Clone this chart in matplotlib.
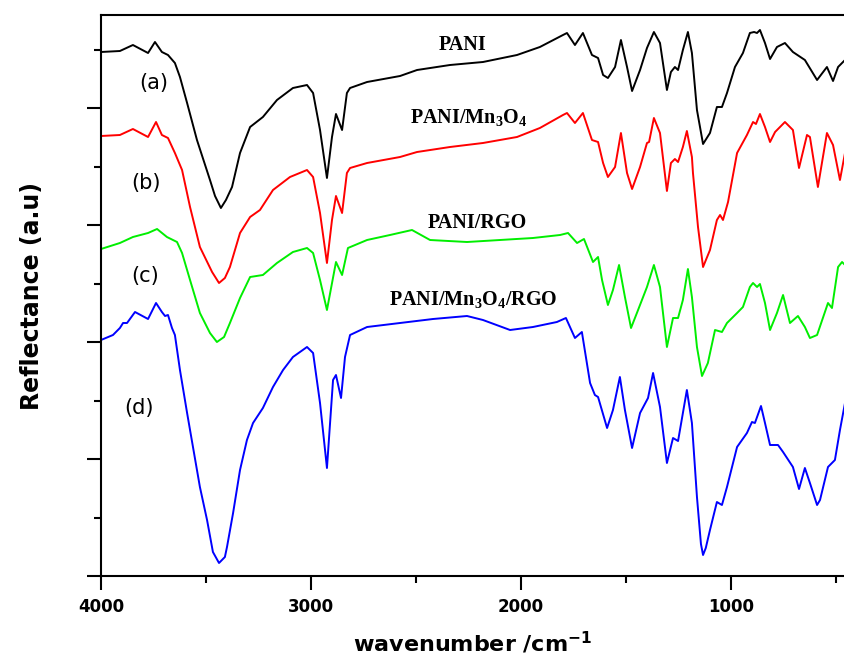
import numpy as np
import matplotlib
matplotlib.use("Agg")
import matplotlib.pyplot as plt
from matplotlib.ticker import MultipleLocator, NullFormatter

plt.rcParams['mathtext.default'] = 'regular'

## Data ##################################################################
# (a) PANI
wn_a = [4000, 3910, 3848, 3776, 3743, 3710, 3681, 3648, 3624, 3590, 3543, 3481,
        3457, 3429, 3405, 3376, 3338, 3290, 3229, 3162, 3086, 3019, 2990, 2957,
        2924, 2900, 2881, 2852, 2829, 2814, 2733, 2576, 2495, 2338, 2181, 2019,
        1910, 1800, 1781, 1743, 1705, 1662, 1633, 1609, 1586, 1552, 1524, 1495,
        1471, 1433, 1400, 1367, 1338, 1305, 1286, 1267, 1252, 1229, 1205, 1186,
        1162, 1133, 1100, 1067, 1043, 1019, 981, 943, 910, 890, 876, 862, 838,
        814, 781, 743, 705, 648, 590, 543, 514, 490, 457]
r_a = [5.24, 5.25, 5.31, 5.23, 5.34, 5.24, 5.21, 5.13, 4.99, 4.73, 4.36, 3.96,
       3.80, 3.68, 3.76, 3.89, 4.23, 4.49, 4.59, 4.76, 4.88, 4.91, 4.83, 4.46,
       3.98, 4.39, 4.62, 4.46, 4.83, 4.88, 4.94, 5.00, 5.06, 5.11, 5.14, 5.21,
       5.29, 5.41, 5.43, 5.31, 5.43, 5.21, 5.18, 5.01, 4.98, 5.09, 5.36, 5.09,
       4.85, 5.06, 5.28, 5.44, 5.33, 4.86, 5.04, 5.09, 5.06, 5.26, 5.44, 5.23,
       4.66, 4.32, 4.43, 4.69, 4.69, 4.83, 5.09, 5.23, 5.43, 5.44, 5.43, 5.46,
       5.33, 5.17, 5.29, 5.33, 5.24, 5.16, 4.96, 5.09, 4.95, 5.09, 5.16]

# (b) PANI/Mn3O4
wn_b = [4000, 3910, 3848, 3776, 3738, 3710, 3681, 3648, 3614, 3576, 3529, 3471,
        3438, 3410, 3386, 3338, 3290, 3243, 3181, 3100, 3019, 2990, 2957, 2924,
        2900, 2881, 2852, 2829, 2814, 2733, 2576, 2495, 2338, 2181, 2019, 1910,
        1800, 1781, 1743, 1705, 1662, 1633, 1609, 1586, 1552, 1524, 1495, 1471,
        1433, 1400, 1390, 1367, 1338, 1305, 1286, 1267, 1252, 1229, 1210, 1186,
        1181, 1157, 1133, 1100, 1067, 1052, 1038, 1014, 971, 924, 895, 881, 862,
        838, 814, 790, 743, 705, 676, 638, 624, 586, 543, 514, 481, 457]
r_b = [4.40, 4.41, 4.47, 4.39, 4.54, 4.41, 4.38, 4.23, 4.06, 3.69, 3.29, 3.04,
       2.93, 2.98, 3.09, 3.43, 3.59, 3.66, 3.86, 3.99, 4.06, 3.99, 3.63, 3.13,
       3.56, 3.80, 3.63, 4.03, 4.08, 4.13, 4.19, 4.24, 4.29, 4.33, 4.39, 4.48,
       4.61, 4.63, 4.53, 4.63, 4.36, 4.34, 4.13, 3.99, 4.09, 4.43, 4.03, 3.87,
       4.09, 4.33, 4.34, 4.58, 4.43, 3.85, 4.13, 4.17, 4.14, 4.29, 4.45, 4.19,
       4.03, 3.49, 3.09, 3.26, 3.56, 3.61, 3.56, 3.74, 4.23, 4.41, 4.54, 4.52,
       4.62, 4.49, 4.34, 4.44, 4.54, 4.46, 4.08, 4.41, 4.39, 3.89, 4.43, 4.31,
       3.96, 4.23]

# (c) PANI/RGO
wn_c = [4000, 3910, 3848, 3776, 3733, 3686, 3638, 3614, 3576, 3529, 3481, 3448,
        3414, 3386, 3338, 3290, 3229, 3162, 3086, 3019, 2990, 2957, 2924, 2881,
        2852, 2824, 2733, 2624, 2519, 2433, 2257, 2100, 1943, 1814, 1776, 1733,
        1700, 1657, 1633, 1614, 1586, 1562, 1533, 1505, 1476, 1448, 1400, 1367,
        1338, 1305, 1276, 1252, 1229, 1205, 1186, 1162, 1138, 1110, 1076, 1043,
        1019, 971, 943, 910, 895, 876, 862, 838, 814, 781, 752, 719, 681, 648,
        624, 590, 538, 519, 490, 471, 457]
r_c = [3.27, 3.33, 3.39, 3.43, 3.47, 3.39, 3.34, 3.23, 2.96, 2.63, 2.43, 2.34,
       2.39, 2.53, 2.78, 2.99, 3.01, 3.13, 3.24, 3.28, 3.23, 2.96, 2.66, 3.14,
       3.01, 3.28, 3.36, 3.41, 3.46, 3.36, 3.34, 3.36, 3.38, 3.41, 3.43, 3.33,
       3.37, 3.14, 3.19, 2.96, 2.71, 2.86, 3.11, 2.79, 2.48, 2.63, 2.89, 3.11,
       2.89, 2.29, 2.58, 2.58, 2.76, 3.07, 2.79, 2.29, 2.00, 2.13, 2.46, 2.44,
       2.53, 2.63, 2.69, 2.89, 2.93, 2.89, 2.92, 2.73, 2.46, 2.63, 2.81, 2.53,
       2.60, 2.49, 2.38, 2.41, 2.73, 2.68, 3.09, 3.14, 3.11]

# (d) PANI/Mn3O4/RGO
wn_d = [4000, 3943, 3910, 3895, 3876, 3838, 3776, 3738, 3710, 3695, 3681, 3662,
        3648, 3624, 3590, 3562, 3529, 3495, 3467, 3438, 3410, 3400, 3371, 3338,
        3305, 3276, 3229, 3181, 3133, 3086, 3019, 2990, 2957, 2924, 2895, 2881,
        2857, 2838, 2814, 2733, 2576, 2419, 2257, 2181, 2052, 1943, 1829, 1786,
        1743, 1710, 1671, 1648, 1633, 1590, 1562, 1529, 1505, 1471, 1433, 1395,
        1371, 1338, 1305, 1276, 1252, 1210, 1186, 1162, 1143, 1133, 1120, 1100,
        1067, 1043, 1019, 971, 924, 900, 886, 857, 838, 814, 776, 752, 705, 676,
        648, 624, 590, 576, 538, 505, 481, 457]
r_d = [2.36, 2.41, 2.48, 2.53, 2.53, 2.64, 2.57, 2.73, 2.64, 2.60, 2.61, 2.48,
       2.41, 2.06, 1.63, 1.29, 0.89, 0.56, 0.24, 0.13, 0.19, 0.29, 0.63, 1.06,
       1.36, 1.53, 1.68, 1.89, 2.06, 2.19, 2.29, 2.23, 1.73, 1.08, 1.96, 2.01,
       1.78, 2.19, 2.41, 2.49, 2.53, 2.57, 2.60, 2.56, 2.46, 2.49, 2.54, 2.58,
       2.38, 2.44, 1.93, 1.81, 1.79, 1.48, 1.66, 1.99, 1.66, 1.28, 1.63, 1.78,
       2.03, 1.69, 1.13, 1.38, 1.35, 1.86, 1.53, 0.79, 0.32, 0.21, 0.28, 0.46,
       0.74, 0.71, 0.89, 1.29, 1.43, 1.54, 1.53, 1.70, 1.53, 1.31, 1.31, 1.24,
       1.09, 0.87, 1.08, 0.93, 0.71, 0.76, 1.09, 1.16, 1.46, 1.73]

series = [(wn_a, r_a, 'black'), (wn_b, r_b, '#ff0000'),
          (wn_c, r_c, '#00ee00'), (wn_d, r_d, '#0000ff')]

letters = ['(a)', '(b)', '(c)', '(d)']
letter_x = [3748, 3786, 3790, 3819]
letter_y = [4.93, 3.93, 3.00, 1.68]

names = ['PANI', 'PANI/Mn$_3$O$_4$', 'PANI/RGO', 'PANI/Mn$_3$O$_4$/RGO']
name_x = [2276, 2248, 2210, 2229]
name_y = [5.26, 4.53, 3.48, 2.71]

## Plot ###################################################################
fig = plt.figure(figsize=(8.45, 6.62), dpi=100)
ax = fig.add_axes([101/845, 1-576/662, 744/845, 561/662])

for wn, r, c in series:
    ax.plot(wn, r, color=c, lw=1.4)

for t, x, y in zip(letters, letter_x, letter_y):
    ax.text(x, y, t, fontsize=15, ha='center', va='center', family='DejaVu Sans')

for t, x, y in zip(names, name_x, name_y):
    ax.text(x, y, t, fontsize=14.5, fontweight='bold', ha='center',
            va='baseline', family='Liberation Serif')

ax.set_xlim(4000, 457)
ax.set_ylim(0, 5.61)

ax.xaxis.set_major_locator(MultipleLocator(1000))
ax.xaxis.set_minor_locator(MultipleLocator(500))
ax.yaxis.set_major_locator(MultipleLocator(1.17))
ax.yaxis.set_minor_locator(MultipleLocator(0.585))
ax.yaxis.set_major_formatter(NullFormatter())

ax.tick_params(which='major', direction='out', length=10, width=1.5,
               labelsize=12, pad=6)
ax.tick_params(which='minor', direction='out', length=5, width=1.5)
for lab in ax.get_xticklabels():
    lab.set_fontweight('bold')

ax.spines['right'].set_visible(False)
for s in ['left', 'top', 'bottom']:
    ax.spines[s].set_linewidth(1.5)

ax.set_xlabel('wavenumber /cm$^{-1}$', fontsize=16, fontweight='bold', labelpad=10)
ax.set_ylabel('Reflectance (a.u)', fontsize=17, fontweight='bold', labelpad=25)

fig.savefig('out.png', dpi=100)
